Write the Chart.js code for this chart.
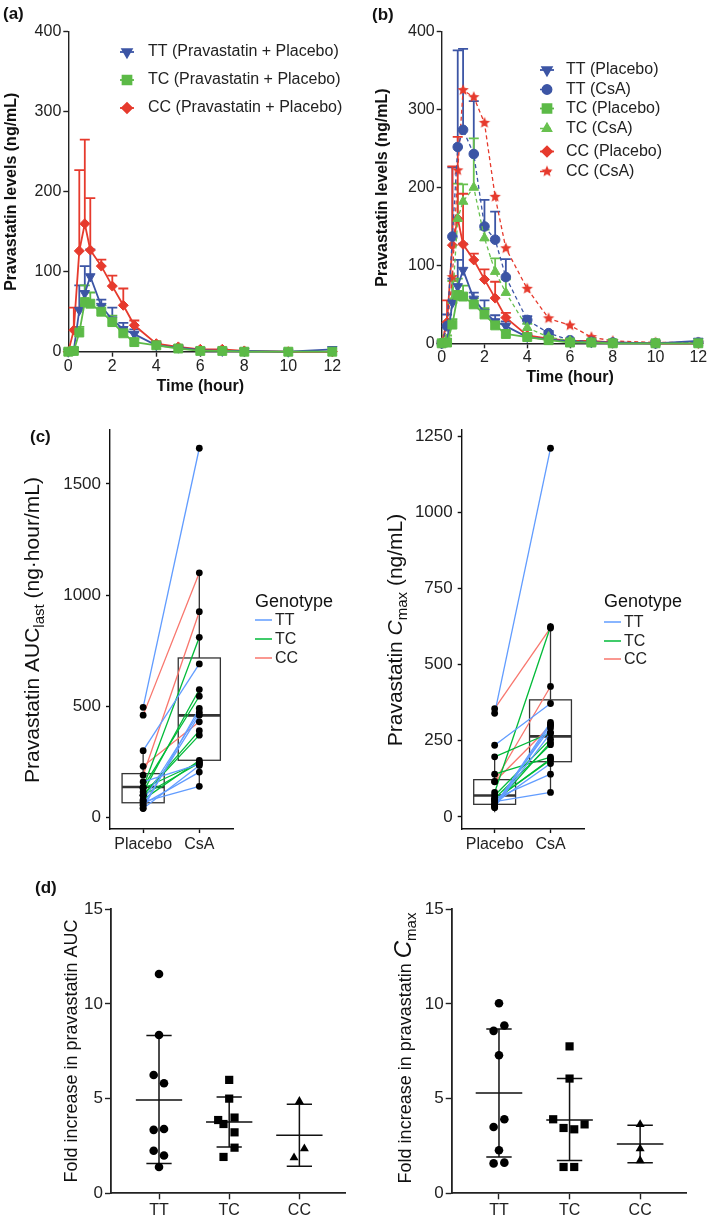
<!DOCTYPE html>
<html>
<head>
<meta charset="utf-8">
<script src="https://cdn.jsdelivr.net/npm/chart.js@4.4.1/dist/chart.umd.min.js"></script>
<style>
  body { margin: 0; background: #fff; }
  #page { position: relative; width: 709px; height: 1222px; overflow: hidden; }
  #page canvas { position: absolute; }
</style>
</head>
<body>
<div id="page">
  <canvas id="chartA" width="355" height="400" style="left:0;top:0"></canvas>
  <canvas id="chartB" width="354" height="400" style="left:355px;top:0"></canvas>
  <canvas id="chartC1" width="355" height="470" style="left:0;top:400px"></canvas>
  <canvas id="chartC2" width="354" height="470" style="left:355px;top:400px"></canvas>
  <canvas id="chartD1" width="355" height="352" style="left:0;top:870px"></canvas>
  <canvas id="chartD2" width="354" height="352" style="left:355px;top:870px"></canvas>
</div>
<script>
// ---- data ----
var times = [0, 0.25, 0.5, 0.75, 1, 1.5, 2, 2.5, 3, 4, 5, 6, 7, 8, 10, 12];
var hourTicks = [0, 2, 4, 6, 8, 10, 12];
var levelTicks = [0, 100, 200, 300, 400];

var ttPlacebo   = [0, 2, 52, 73, 94, 57, 40, 28, 22, 8, 5, 2, 1, 1, 0, 3];
var ttPlaceboSd = [0, 3, 31, 34, 34, 8, 15, 8, 6, 3, 2, 1, 0, 0, 0, 0];
var tcPlacebo   = [0, 1, 24, 62, 60, 50, 37, 23, 12, 8, 4, 1, 1, 0, 0, 0];
var tcPlaceboSd = [0, 1, 7, 21, 14, 8, 8, 5, 4, 2, 1, 0, 0, 0, 0, 0];
var ccPlacebo   = [0, 27, 126, 160, 127, 107, 82, 58, 33, 10, 6, 3, 3, 1, 0, 0];
var ccPlaceboSd = [0, 28, 101, 105, 65, 8, 13, 21, 6, 3, 2, 1, 1, 0, 0, 0];

var ttCsA   = [0, 22, 137, 252, 274, 243, 150, 133, 85, 30, 13, 4, 2, 1, 0, 1];
var ttCsASd = [0, 15, 89, 124, 104, 68, 34, 36, 23, 5, 3, 1, 0, 0, 0, 0];
var tcCsA   = [0, 5, 55, 160, 182, 200, 135, 92, 65, 20, 8, 3, 1, 0, 0, 0];
var tcCsASd = [0, 5, 25, 45, 22, 63, 11, 17, 17, 5, 2, 1, 0, 0, 0, 0];
var ccCsA   = [0, 20, 85, 222, 325, 316, 283, 188, 122, 70, 32, 23, 8, 3, 1, 1];

var phases = ['Placebo', 'CsA'];
var genotypes = ['TT', 'TC', 'CC'];

var aucTTPlacebo = [495, 300, 42, 55, 75, 40, 60, 70, 160];
var aucTTCsA     = [1660, 690, 490, 460, 473, 234, 204, 140, 240];
var aucTCPlacebo = [135, 115, 136, 100, 100, 80, 100, 130];
var aucTCCsA     = [810, 575, 545, 390, 370, 256, 245, 247];
var aucCCPlacebo = [460, 190, 230];
var aucCCCsA     = [1100, 925, 430];
var aucTicks = [0, 500, 1000, 1500];
var aucWhiskLo = [28, 140], aucQ1 = [66, 257], aucMed = [137, 459], aucQ3 = [197, 717], aucWhiskHi = [302, 1101];

var cmaxTTPlacebo = [340, 235, 30, 35, 32, 40, 45, 60, 50];
var cmaxTTCsA     = [1210, 372, 303, 310, 275, 292, 175, 140, 80];
var cmaxTCPlacebo = [80, 40, 60, 55, 55, 70, 197, 140];
var cmaxTCCsA     = [624, 244, 237, 190, 187, 255, 276, 196];
var cmaxCCPlacebo = [355, 116, 115];
var cmaxCCCsA     = [620, 428, 300];
var cmaxTicks = [0, 250, 500, 750, 1000, 1250];
var cmaxWhiskLo = [15, 75], cmaxQ1 = [41, 181], cmaxMed = [70, 264], cmaxQ3 = [122, 384], cmaxWhiskHi = [197, 636];

var foldTicks = [0, 5, 10, 15];
var foldAucTT = [11.58, 8.36, 6.25, 5.81, 3.35, 3.40, 2.25, 2.0, 1.39];
var foldAucTTJit = [0, 0, -0.076, 0.071, -0.076, 0.071, -0.076, 0.071, 0];
var foldAucTC = [5.99, 5.0, 3.87, 3.66, 4.0, 3.22, 2.41, 1.92];
var foldAucTCJit = [0, 0, -0.157, -0.081, 0.076, 0.076, 0.076, -0.081];
var foldAucCC = [4.86, 2.36, 1.88];
var foldAucCCJit = [0, 0.071, -0.076];
var foldAucMean = [4.93, 3.77, 3.06], foldAucSdHi = [8.33, 5.09, 4.70], foldAucSdLo = [1.57, 2.45, 1.43];

var foldCmaxTT = [10.04, 8.86, 8.58, 7.29, 3.91, 3.5, 2.27, 1.58, 1.62];
var foldCmaxTTJit = [0, 0.076, -0.076, 0, 0.076, -0.076, 0, -0.076, 0.076];
var foldCmaxTC = [7.76, 6.06, 3.91, 3.45, 3.38, 3.64, 1.39, 1.39];
var foldCmaxTCJit = [0, 0, -0.232, -0.085, 0.066, 0.213, -0.085, 0.066];
var foldCmaxCC = [3.64, 2.36, 1.73];
var foldCmaxCCJit = [0, 0, 0];
var foldCmaxMean = [5.3, 3.87, 2.61], foldCmaxSdHi = [8.68, 6.06, 3.59], foldCmaxSdLo = [1.92, 1.73, 1.62];

// ---- styling ----
var FAM = "'Liberation Sans', Arial, Helvetica, sans-serif";
Chart.defaults.font.family = FAM;
Chart.defaults.color = '#222';
var H = Chart.helpers;
var BLUE = '#3c55a5', GREEN = '#5cba47', RED = '#e63a2d';
var GG = { TT: '#619CFF', TC: '#00BA38', CC: '#F8766D' };

function makeStar(color, r) {
  var c = document.createElement('canvas');
  var s = Math.ceil(r * 2 + 2);
  c.width = s; c.height = s;
  var g = c.getContext('2d');
  g.fillStyle = color;
  g.beginPath();
  for (var i = 0; i < 10; i++) {
    var a = -Math.PI / 2 + i * Math.PI / 5;
    var rr = i % 2 ? r * 0.45 : r;
    g.lineTo(s / 2 + rr * Math.cos(a), s / 2 + rr * Math.sin(a));
  }
  g.closePath();
  g.fill();
  return c;
}

// ---- plugins ----
var errorBars = {
  id: 'errorBars',
  beforeDatasetsDraw: function (chart) {
    var ctx = chart.ctx, xs = chart.scales.x, ys = chart.scales.y;
    chart.data.datasets.forEach(function (ds) {
      if (!ds.errors) return;
      ctx.save();
      ctx.strokeStyle = ds.borderColor;
      ctx.lineWidth = 1.8;
      ds.data.forEach(function (p, j) {
        var e = ds.errors[j];
        if (!e) return;
        var x = xs.getPixelForValue(p.x);
        var y0 = ys.getPixelForValue(p.y), y1 = ys.getPixelForValue(p.y + e);
        ctx.beginPath();
        ctx.moveTo(x, y0); ctx.lineTo(x, y1);
        ctx.moveTo(x - 5, y1); ctx.lineTo(x + 5, y1);
        ctx.stroke();
      });
      ctx.restore();
    });
  }
};

var pkLegend = {
  id: 'pkLegend',
  afterDraw: function (chart, args, opts) {
    if (!opts.ys) return;
    var ctx = chart.ctx;
    chart.data.datasets.forEach(function (ds, i) {
      var y = opts.ys[i];
      ctx.save();
      ctx.strokeStyle = ds.borderColor;
      ctx.lineWidth = ds.borderWidth;
      ctx.setLineDash(ds.borderDash || []);
      ctx.beginPath(); ctx.moveTo(opts.x - 7, y); ctx.lineTo(opts.x + 7, y); ctx.stroke();
      ctx.setLineDash([]);
      ctx.fillStyle = ds.pointBackgroundColor;
      ctx.strokeStyle = ds.pointBorderColor;
      H.drawPoint(ctx, { pointStyle: ds.pointStyle, rotation: ds.pointRotation || 0, radius: ds.pointRadius, borderWidth: 1 }, opts.x, y);
      ctx.font = '16px ' + FAM;
      ctx.fillStyle = '#222';
      ctx.textBaseline = 'middle';
      ctx.fillText(ds.label, opts.tx, y);
      ctx.restore();
    });
  }
};

var panelText = {
  id: 'panelText',
  afterDraw: function (chart, args, opts) {
    if (!opts.items) return;
    var ctx = chart.ctx;
    opts.items.forEach(function (it) {
      ctx.save();
      ctx.font = it.font;
      ctx.fillStyle = it.color || '#111';
      ctx.textAlign = it.align || 'left';
      ctx.textBaseline = 'middle';
      ctx.fillText(it.text, it.x, it.y);
      ctx.restore();
    });
  }
};

var richTitle = {
  id: 'richTitle',
  afterDraw: function (chart, args, opts) {
    if (!opts.parts) return;
    var ctx = chart.ctx;
    ctx.save();
    ctx.translate(opts.x, opts.y);
    ctx.rotate(-Math.PI / 2);
    ctx.textBaseline = 'alphabetic';
    ctx.fillStyle = '#111';
    var w = 0;
    opts.parts.forEach(function (p) { ctx.font = p.font; p.w = ctx.measureText(p.t).width; w += p.w; });
    var x = -w / 2;
    opts.parts.forEach(function (p) {
      ctx.font = p.font;
      ctx.fillText(p.t, x, opts.base + (p.dy || 0));
      x += p.w;
    });
    ctx.restore();
  }
};

var genoLegend = {
  id: 'genoLegend',
  afterDraw: function (chart, args, opts) {
    if (!opts.ys) return;
    var ctx = chart.ctx;
    ctx.save();
    ctx.textBaseline = 'middle';
    ctx.fillStyle = '#111';
    ctx.font = '18px ' + FAM;
    ctx.fillText('Genotype', opts.x, opts.ty);
    ctx.font = '16px ' + FAM;
    genotypes.forEach(function (g, i) {
      ctx.strokeStyle = GG[g];
      ctx.lineWidth = 1.5;
      ctx.beginPath(); ctx.moveTo(opts.x, opts.ys[i]); ctx.lineTo(opts.x + 17, opts.ys[i]); ctx.stroke();
      ctx.fillStyle = '#222';
      ctx.fillText(g, opts.x + 20, opts.ys[i] + 1);
    });
    ctx.restore();
  }
};

var boxPlot = {
  id: 'boxPlot',
  beforeDatasetsDraw: function (chart, args, opts) {
    if (!opts.med) return;
    var ctx = chart.ctx, xs = chart.scales.x, ys = chart.scales.y;
    ctx.save();
    ctx.strokeStyle = '#333';
    opts.med.forEach(function (m, i) {
      var cx = xs.getPixelForValue(i + 1);
      var l = xs.getPixelForValue(i + 1 - 0.375), r = xs.getPixelForValue(i + 1 + 0.375);
      var q1 = ys.getPixelForValue(opts.q1[i]), q3 = ys.getPixelForValue(opts.q3[i]);
      ctx.lineWidth = 1.3;
      ctx.beginPath();
      ctx.moveTo(cx, ys.getPixelForValue(opts.hi[i])); ctx.lineTo(cx, q3);
      ctx.moveTo(cx, q1); ctx.lineTo(cx, ys.getPixelForValue(opts.lo[i]));
      ctx.stroke();
      ctx.strokeRect(l, q3, r - l, q1 - q3);
      ctx.lineWidth = 2.6;
      var my = ys.getPixelForValue(m);
      ctx.beginPath(); ctx.moveTo(l, my); ctx.lineTo(r, my); ctx.stroke();
    });
    ctx.restore();
  }
};

var meanSd = {
  id: 'meanSd',
  beforeDatasetsDraw: function (chart, args, opts) {
    if (!opts.mean) return;
    var ctx = chart.ctx, xs = chart.scales.x, ys = chart.scales.y;
    ctx.save();
    ctx.strokeStyle = '#111';
    ctx.lineWidth = 1.5;
    opts.mean.forEach(function (m, i) {
      var g = i + 1;
      var cx = xs.getPixelForValue(g);
      var yHi = ys.getPixelForValue(opts.hi[i]), yLo = ys.getPixelForValue(opts.lo[i]), yM = ys.getPixelForValue(m);
      ctx.beginPath();
      ctx.moveTo(cx, yHi); ctx.lineTo(cx, yLo);
      ctx.moveTo(xs.getPixelForValue(g - 0.18), yHi); ctx.lineTo(xs.getPixelForValue(g + 0.18), yHi);
      ctx.moveTo(xs.getPixelForValue(g - 0.18), yLo); ctx.lineTo(xs.getPixelForValue(g + 0.18), yLo);
      ctx.moveTo(xs.getPixelForValue(g - 0.33), yM); ctx.lineTo(xs.getPixelForValue(g + 0.33), yM);
      ctx.stroke();
    });
    ctx.restore();
  }
};

Chart.register(errorBars, pkLegend, panelText, richTitle, genoLegend, boxPlot, meanSd);

// ---- helpers ----
function plainNumber(v) { return String(v); }

function axisCommon(tickLen, pad, size) {
  return {
    grid: { drawOnChartArea: false, color: '#222', tickLength: tickLen, tickWidth: 1.4 },
    border: { color: '#222', width: 1.4 },
    ticks: { padding: pad, font: { size: size }, color: '#222', maxRotation: 0, autoSkip: false, callback: plainNumber }
  };
}

function fixedTicks(list) {
  return function (s) { s.ticks = list.map(function (v) { return { value: v }; }); };
}

function pkSet(label, vals, sd, color, style, radius, dashed, rot, order) {
  return {
    label: label,
    data: times.map(function (t, i) { return { x: t, y: vals[i] }; }),
    errors: sd,
    borderColor: color,
    backgroundColor: color,
    pointBackgroundColor: color,
    pointBorderColor: color,
    pointStyle: style,
    pointRotation: rot || 0,
    pointRadius: radius,
    pointBorderWidth: 1,
    borderWidth: dashed ? 1.3 : 1.8,
    borderDash: dashed ? [4, 3] : [],
    clip: false,
    order: order
  };
}

function pkOptions(o) {
  var x = axisCommon(5, 0, 16), y = axisCommon(5, 2, 16);
  x.type = 'linear'; x.min = 0; x.max = 12;
  x.afterFit = function (s) { s.height = o.xh; };
  x.afterBuildTicks = fixedTicks(hourTicks);
  x.title = { display: true, text: 'Time (hour)', font: { size: 16, weight: 'bold' }, color: '#111', padding: { top: 0, bottom: o.xtp } };
  y.min = 0; y.max = 400;
  y.afterFit = function (s) { s.width = o.yw; };
  y.afterBuildTicks = fixedTicks(levelTicks);
  y.title = { display: true, text: 'Pravastatin levels (ng/mL)', font: { size: 16, weight: 'bold' }, color: '#111', padding: { top: o.ytp, bottom: 0 } };
  return {
    responsive: false, animation: false,
    layout: { padding: { top: 31.7, right: o.pr, left: 0, bottom: 0 } },
    scales: { x: x, y: y },
    plugins: {
      legend: { display: false }, tooltip: { enabled: false },
      pkLegend: o.legend,
      panelText: { items: [o.letter] }
    }
  };
}

// ---- (a) ----
new Chart(document.getElementById('chartA'), {
  type: 'line',
  data: {
    datasets: [
      pkSet('TT (Pravastatin + Placebo)', ttPlacebo, ttPlaceboSd, BLUE, 'triangle', 5.5, false, 180, 1),
      pkSet('TC (Pravastatin + Placebo)', tcPlacebo, tcPlaceboSd, GREEN, 'rect', 6.3, false, 0, 0),
      pkSet('CC (Pravastatin + Placebo)', ccPlacebo, ccPlaceboSd, RED, 'rectRot', 5, false, 0, 2)
    ]
  },
  options: pkOptions({
    xh: 48.3, xtp: 3.4, yw: 68.3, ytp: 2.4, pr: 22.7,
    legend: { x: 127, tx: 148, ys: [52, 80, 108] },
    letter: { text: '(a)', x: 3, y: 14, font: 'bold 17px ' + FAM }
  })
});

// ---- (b) ----
new Chart(document.getElementById('chartB'), {
  type: 'line',
  data: {
    datasets: [
      pkSet('TT (Placebo)', ttPlacebo, ttPlaceboSd, BLUE, 'triangle', 5.5, false, 180, 1),
      pkSet('TT (CsA)', ttCsA, ttCsASd, BLUE, 'circle', 4.8, true, 0, 3),
      pkSet('TC (Placebo)', tcPlacebo, tcPlaceboSd, GREEN, 'rect', 6.3, false, 0, 0),
      pkSet('TC (CsA)', tcCsA, tcCsASd, '#68c14f', 'triangle', 5.5, true, 0, 2),
      pkSet('CC (Placebo)', ccPlacebo, ccPlaceboSd, RED, 'rectRot', 5, false, 0, 4),
      pkSet('CC (CsA)', ccCsA, null, RED, makeStar(RED, 6), 6, true, 0, 5)
    ]
  },
  options: pkOptions({
    xh: 56.7, xtp: 12.4, yw: 86.7, ytp: 18.4, pr: 10.7,
    legend: { x: 192, tx: 211, ys: [70, 89.5, 108.5, 128.5, 151.5, 171.5] },
    letter: { text: '(b)', x: 17, y: 15, font: 'bold 17px ' + FAM }
  })
});

// ---- (c) ----
function pairSets(pl, csa, color) {
  return pl.map(function (v, i) {
    return {
      type: 'line', data: [{ x: 1, y: v }, { x: 2, y: csa[i] }],
      borderColor: color, borderWidth: 1.3, pointRadius: 0, clip: false, order: 1
    };
  });
}

function pointSet(lists) {
  var pts = [];
  lists.forEach(function (l) {
    l[0].forEach(function (v, i) { pts.push({ x: 1, y: v }); pts.push({ x: 2, y: l[1][i] }); });
  });
  return { type: 'scatter', data: pts, pointRadius: 3.4, pointBackgroundColor: '#000', pointBorderColor: '#000', borderWidth: 0, clip: false, order: 0 };
}

function pairedChart(id, d) {
  var x = axisCommon(4, 2, 16), y = axisCommon(4, 5, 17);
  x.type = 'linear'; x.min = 0.41; x.max = 2.6;
  x.afterFit = function (s) { s.height = 41; };
  x.afterBuildTicks = fixedTicks([1, 2]);
  x.ticks.callback = function (v) { return phases[v - 1]; };
  y.min = d.ymin; y.max = d.ymax;
  y.afterFit = function (s) { s.width = d.yw; };
  y.afterBuildTicks = fixedTicks(d.ticks);
  x.grid.color = '#111'; y.grid.color = '#111'; x.border.color = '#111'; y.border.color = '#111';
  var sets = [pointSet([[d.tt[0], d.tt[1]], [d.tc[0], d.tc[1]], [d.cc[0], d.cc[1]]])]
    .concat(pairSets(d.tt[0], d.tt[1], GG.TT))
    .concat(pairSets(d.tc[0], d.tc[1], GG.TC))
    .concat(pairSets(d.cc[0], d.cc[1], GG.CC));
  new Chart(document.getElementById(id), {
    type: 'scatter',
    data: { datasets: sets },
    options: {
      responsive: false, animation: false,
      layout: { padding: { top: 30, right: d.pr, left: 0, bottom: 0 } },
      scales: { x: x, y: y },
      plugins: {
        legend: { display: false }, tooltip: { enabled: false },
        boxPlot: d.box,
        richTitle: d.title,
        genoLegend: d.legend,
        panelText: { items: d.letter ? [d.letter] : [] }
      }
    }
  });
}

pairedChart('chartC1', {
  ymin: -52, ymax: 1742, ticks: aucTicks, yw: 110, pr: 122,
  tt: [aucTTPlacebo, aucTTCsA], tc: [aucTCPlacebo, aucTCCsA], cc: [aucCCPlacebo, aucCCCsA],
  box: { lo: aucWhiskLo, q1: aucQ1, med: aucMed, q3: aucQ3, hi: aucWhiskHi },
  title: { x: 32, y: 230, base: 7, parts: [
    { t: 'Pravastatin AUC', font: '21px ' + FAM },
    { t: 'last', font: '15px ' + FAM, dy: 5 },
    { t: ' (ng\u00b7hour/mL)', font: '21px ' + FAM }
  ] },
  legend: { x: 255, ty: 202, ys: [220, 239, 258] },
  letter: { text: '(c)', x: 30, y: 37, font: 'bold 17px ' + FAM }
});

pairedChart('chartC2', {
  ymin: -40, ymax: 1270, ticks: cmaxTicks, yw: 106.7, pr: 125,
  tt: [cmaxTTPlacebo, cmaxTTCsA], tc: [cmaxTCPlacebo, cmaxTCCsA], cc: [cmaxCCPlacebo, cmaxCCCsA],
  box: { lo: cmaxWhiskLo, q1: cmaxQ1, med: cmaxMed, q3: cmaxQ3, hi: cmaxWhiskHi },
  title: { x: 40, y: 230, base: 7, parts: [
    { t: 'Pravastatin ', font: '21px ' + FAM },
    { t: 'C', font: 'italic 21px ' + FAM },
    { t: 'max', font: '15px ' + FAM, dy: 5 },
    { t: ' (ng/mL)', font: '21px ' + FAM }
  ] },
  legend: { x: 249, ty: 202, ys: [222, 241, 259] }
});

// ---- (d) ----
function foldSet(vals, jit, g, style, radius) {
  return {
    data: vals.map(function (v, i) { return { x: g + jit[i], y: v }; }),
    pointStyle: style, pointRadius: radius,
    pointBackgroundColor: '#000', pointBorderColor: '#000', pointBorderWidth: 0, clip: false
  };
}

function foldChart(id, d) {
  var x = axisCommon(6, 2, 16), y = axisCommon(6, 2, 17);
  x.type = 'linear'; x.min = d.xmin; x.max = 3.65;
  x.afterFit = function (s) { s.height = 28.7; };
  x.afterBuildTicks = fixedTicks([1, 2, 3]);
  x.ticks.callback = function (v) { return genotypes[v - 1]; };
  y.min = 0; y.max = 15;
  y.afterFit = function (s) { s.width = d.yw; };
  y.afterBuildTicks = fixedTicks(foldTicks);
  x.border.width = 1.8; y.border.width = 1.8;
  new Chart(document.getElementById(id), {
    type: 'scatter',
    data: { datasets: [
      foldSet(d.tt[0], d.tt[1], 1, 'circle', 4.3),
      foldSet(d.tc[0], d.tc[1], 2, 'rect', 5.8),
      foldSet(d.cc[0], d.cc[1], 3, 'triangle', 5.2)
    ] },
    options: {
      responsive: false, animation: false,
      layout: { padding: { top: 39.3, right: d.pr, left: 0, bottom: 0 } },
      scales: { x: x, y: y },
      plugins: {
        legend: { display: false }, tooltip: { enabled: false },
        meanSd: d.stats,
        richTitle: d.title,
        panelText: { items: d.letter ? [d.letter] : [] }
      }
    }
  });
}

foldChart('chartD1', {
  xmin: 0.316, yw: 111, pr: 10,
  tt: [foldAucTT, foldAucTTJit], tc: [foldAucTC, foldAucTCJit], cc: [foldAucCC, foldAucCCJit],
  stats: { mean: foldAucMean, hi: foldAucSdHi, lo: foldAucSdLo },
  title: { x: 71, y: 181, base: 6, parts: [
    { t: 'Fold increase in pravastatin AUC', font: '18px ' + FAM }
  ] },
  letter: { text: '(d)', x: 35, y: 18, font: 'bold 17px ' + FAM }
});

foldChart('chartD2', {
  xmin: 0.33, yw: 96.7, pr: 23,
  tt: [foldCmaxTT, foldCmaxTTJit], tc: [foldCmaxTC, foldCmaxTCJit], cc: [foldCmaxCC, foldCmaxCCJit],
  stats: { mean: foldCmaxMean, hi: foldCmaxSdHi, lo: foldCmaxSdLo },
  title: { x: 50, y: 178, base: 6, parts: [
    { t: 'Fold increase in pravastatin ', font: '18px ' + FAM },
    { t: 'C', font: 'italic 24px ' + FAM },
    { t: 'max', font: '15px ' + FAM, dy: 5 }
  ] }
});
</script>
</body>
</html>
